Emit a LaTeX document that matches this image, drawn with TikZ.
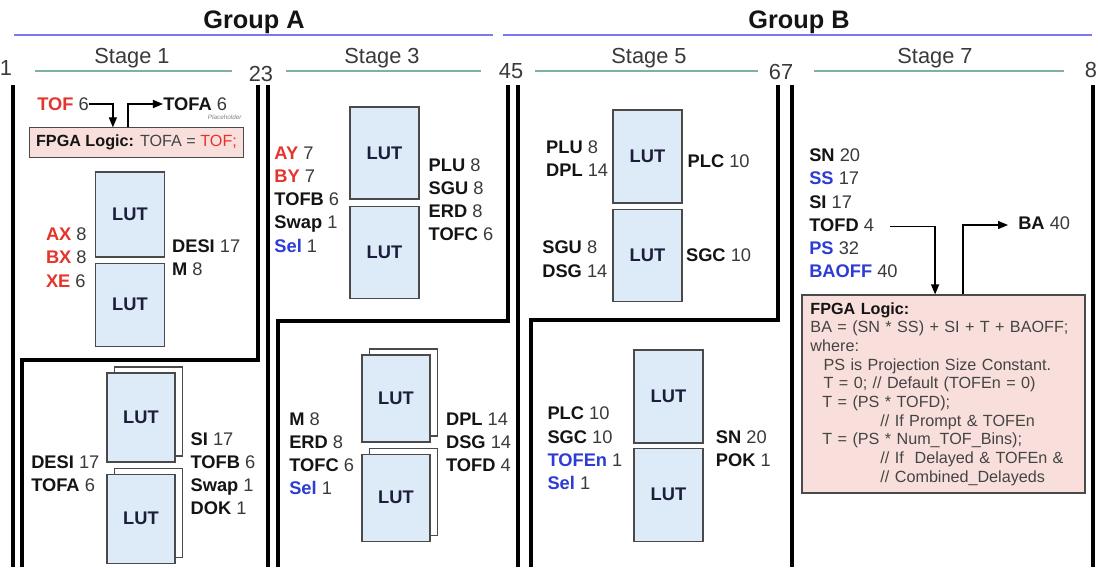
\documentclass[tikz,border=0pt]{standalone}
\usepackage{fontspec}
\setmainfont{Liberation Sans}
\usepackage{xcolor}
\usepackage{tikz}
\usetikzlibrary{positioning, arrows.meta, shadows, calc}
\definecolor{ink}{HTML}{141414}
\definecolor{numgray}{HTML}{3A3A3A}
\definecolor{sigred}{HTML}{E5342B}
\definecolor{sigblue}{HTML}{2C3CD4}
\definecolor{grpline}{HTML}{7A7AEE}
\definecolor{stgline}{HTML}{7DB398}
\definecolor{lutfill}{HTML}{DDEAF7}
\definecolor{lutdraw}{HTML}{4A4A4A}
\definecolor{lutink}{HTML}{1C1E3C}
\definecolor{logicfill}{HTML}{F8DFDC}
\definecolor{logicink}{HTML}{444444}
\newcommand{\sigk}[2]{\textbf{\color{ink}#1} {\color{numgray}#2}}
\newcommand{\sigr}[2]{\textbf{\color{sigred}#1} {\color{numgray}#2}}
\newcommand{\sigb}[2]{\textbf{\color{sigblue}#1} {\color{numgray}#2}}
\tikzset{
  lut/.style      = {rectangle, draw=lutdraw, line width=0.8pt, fill=lutfill,
                     minimum width=1.725cm, minimum height=2.2cm, inner sep=0pt,
                     font=\fontsize{13}{15}\selectfont\bfseries, text=lutink},
  lutstack/.style = {lut, minimum width=1.7cm,
                     copy shadow={shadow xshift=0.18cm, shadow yshift=0.15cm,
                                  fill=white, draw=lutdraw}},
  sig/.style      = {align=left, inner sep=0pt, font=\fontsize{13}{16.5}\selectfont},
  row/.style      = {sig, anchor=west, text height=9.5pt, text depth=2.8pt},
  logic/.style    = {rectangle, draw=lutdraw, line width=0.8pt, fill=logicfill,
                     align=left, text=logicink},
  grp/.style      = {font=\fontsize{18}{20}\selectfont\bfseries, text=ink},
  stg/.style      = {font=\fontsize{15.5}{18}\selectfont, text=numgray, inner sep=0pt},
  grprule/.style  = {draw=grpline, line width=1.3pt},
  stgrule/.style  = {draw=stgline, line width=0.9pt},
  wall/.style     = {line width=3.2pt, draw=black},
  ar/.style       = {-{Triangle[length=2.5mm,width=2mm]}, line width=0.9pt, draw=black},
}
\begin{document}
\begin{tikzpicture}[x=0.025cm, y=-0.025cm, node distance=0.3cm and 0.6cm]

  \path[use as bounding box, fill=white] (0,0) rectangle (1098,567);

  \node[grp] (grpA) at (254,22) {Group A};
  \node[grp] (grpB) at (799,22) {Group B};
  \draw[grprule] (14,35) -- (493,35);
  \draw[grprule] (503,35) -- (1092,35);

  \node[stg] (stg1) at (132,58) {Stage 1};
  \node[stg] (stg3) at (382,58) {Stage 3};
  \node[stg] (stg5) at (649,58) {Stage 5};
  \node[stg] (stg7) at (935,58) {Stage 7};
  \draw[stgrule] (35,71) -- (232,71);
  \draw[stgrule] (286,71) -- (481,71);
  \draw[stgrule] (535,71) -- (758,71);
  \draw[stgrule] (814,71) -- (1064,71);

  \node[stg] (n1) at (6,68) {1};
  \node[stg] (n23) at (261,74) {23};
  \node[stg] (n45) at (511,71) {45};
  \node[stg] (n67) at (781,72) {67};
  \node[stg] (n8) at (1091,70) {8};

  \draw[wall] (13,85) -- (13,567);
  \draw[wall] (258,85) -- (258,360) -- (22,360) -- (22,567);
  \draw[wall] (268,85) -- (268,567);
  \draw[wall] (508,85) -- (508,321) -- (278,321) -- (278,567);
  \draw[wall] (518,85) -- (518,567);
  \draw[wall] (778,85) -- (778,320) -- (531,320) -- (531,567);
  \draw[wall] (792,85) -- (792,567);
  \draw[wall] (1093,85) -- (1093,567);

  \node[sig, anchor=west] (s1tof) at (37,104) {\sigr{TOF}{6}};
  \node[sig, anchor=west] (s1tofa) at (163,104) {\sigk{TOFA}{6}};
  \node[logic, minimum width=5.33cm, minimum height=0.73cm,
        font=\fontsize{11.5}{13}\selectfont] (logicA) at (136.5,142.5)
       {\textbf{\color{ink}FPGA Logic:} TOFA = {\color{sigred}TOF;}};
  \node[font=\fontsize{4.5}{5}\selectfont\itshape, text=gray, inner sep=0pt,
        above left=0.18cm and 0.05cm of logicA.north east] (s1ph) {Placeholder};
  \draw[ar] (s1tof.east) -| ([xshift=-0.59cm]logicA.north);
  \draw[ar] ([xshift=-0.21cm]logicA.north) |- (s1tofa.west);

  \node[lut, minimum height=2.125cm] (s1a) at (130,214.5) {LUT};
  \node[lut, minimum height=2.075cm, below=0.125cm of s1a] (s1b) {LUT};
  \node[sig, left=0.2cm of s1a.south west] (s1in)
       {\sigr{AX}{8}\\ \sigr{BX}{8}\\ \sigr{XE}{6}};
  \node[sig, right=0.17cm of s1a.south east] (s1out)
       {\sigk{DESI}{17}\\ \sigk{M}{8}};

  \node[lutstack, minimum height=2.225cm] (s1c) at (141,417.5) {LUT};
  \node[lutstack, minimum height=2.225cm, below=0.275cm of s1c] (s1d) {LUT};
  \node[sig, left=0.17cm of s1d.north west] (s1lin)
       {\sigk{DESI}{17}\\ \sigk{TOFA}{6}};
  \node[sig, right=0.37cm of s1d.north east] (s1lout)
       {\sigk{SI}{17}\\ \sigk{TOFB}{6}\\ \sigk{Swap}{1}\\ \sigk{DOK}{1}};

  \node[lut, minimum height=2.3cm] (s3a) at (384.5,153) {LUT};
  \node[lut, minimum height=2.3cm, below=0.15cm of s3a] (s3b) {LUT};
  \node[sig, left=0.25cm of s3a.south west] (s3in)
       {\sigr{AY}{7}\\ \sigr{BY}{7}\\ \sigk{TOFB}{6}\\ \sigk{Swap}{1}\\ \sigb{Sel}{1}};
  \node[sig, right=0.22cm of s3a.south east] (s3out)
       {\sigk{PLU}{8}\\ \sigk{SGU}{8}\\ \sigk{ERD}{8}\\ \sigk{TOFC}{6}};

  \node[lutstack, minimum height=2.175cm] (s3c) at (396,398.5) {LUT};
  \node[lutstack, minimum height=2.175cm, below=0.275cm of s3c] (s3d) {LUT};
  \node[sig, left=0.18cm of s3d.north west] (s3lin)
       {\sigk{M}{8}\\ \sigk{ERD}{8}\\ \sigk{TOFC}{6}\\ \sigb{Sel}{1}};
  \node[sig, right=0.38cm of s3c.south east] (s3lout)
       {\sigk{DPL}{14}\\ \sigk{DSG}{14}\\ \sigk{TOFD}{4}};

  \node[lut, minimum height=2.325cm] (s5a) at (647.5,156.5) {LUT};
  \node[lut, minimum height=2.3cm, below=0.125cm of s5a] (s5b) {LUT};
  \node[sig, left=0.1cm of s5a, yshift=-0.06cm] (s5ain)
       {\sigk{PLU}{8}\\ \sigk{DPL}{14}};
  \node[sig, right=0.12cm of s5a, yshift=-0.13cm] (s5aout) {\sigk{PLC}{10}};
  \node[sig, left=0.12cm of s5b, yshift=-0.1cm] (s5bin)
       {\sigk{SGU}{8}\\ \sigk{DSG}{14}};
  \node[sig, right=0.08cm of s5b] (s5bout) {\sigk{SGC}{10}};

  \node[lut, minimum height=2.325cm] (s5c) at (668.5,396.5) {LUT};
  \node[lut, minimum height=2.325cm, below=0.1cm of s5c] (s5d) {LUT};
  \node[sig, left=0.27cm of s5c.south west, yshift=-0.12cm] (s5cin)
       {\sigk{PLC}{10}\\ \sigk{SGC}{10}\\ \sigb{TOFEn}{1}\\ \sigb{Sel}{1}};
  \node[sig, right=0.3cm of s5c.south east, yshift=-0.13cm] (s5cout)
       {\sigk{SN}{20}\\ \sigk{POK}{1}};

  \node[row] (s7sn) at (809,157) {\sigk{SN}{20}};
  \node[row] (s7ss) at ([yshift=-16.5pt]s7sn.west) {\sigb{SS}{17}};
  \node[row] (s7si) at ([yshift=-16.5pt]s7ss.west) {\sigk{SI}{17}};
  \node[row] (s7tofd) at ([yshift=-16.5pt]s7si.west) {\sigk{TOFD}{4}};
  \node[row] (s7ps) at ([yshift=-16.5pt]s7tofd.west) {\sigb{PS}{32}};
  \node[row] (s7baoff) at ([yshift=-16.5pt]s7ps.west) {\sigb{BAOFF}{40}};
  \node[row] (s7ba) at (1018,225) {\sigk{BA}{40}};

  \node[logic, minimum width=7.075cm, minimum height=4.95cm, text width=6.65cm,
        inner xsep=0.2cm, font=\fontsize{11.5}{13.3}\selectfont] (logicB) at (943.5,394)
       {\textbf{\color{ink}FPGA Logic:}\\
        BA = (SN * SS) + SI + T + BAOFF;\\
        where:\\
        \hspace*{0.33cm}PS is Projection Size Constant.\\
        \hspace*{0.33cm}T = 0; // Default (TOFEn = 0)\\
        \hspace*{0.3cm}T = (PS * TOFD);\\
        \hspace*{1.75cm}// If Prompt \& TOFEn\\
        \hspace*{0.3cm}T = (PS * Num\_TOF\_Bins);\\
        \hspace*{1.75cm}// If\ \ Delayed \& TOFEn \&\\
        \hspace*{1.75cm}// Combined\_Delayeds};
  \draw[ar, shorten <=0.4cm] (s7tofd.east) -| ([xshift=-0.21cm]logicB.north);
  \draw[ar, shorten >=0.25cm] ([xshift=0.49cm]logicB.north) |- (s7ba.west);

\end{tikzpicture}
\end{document}
